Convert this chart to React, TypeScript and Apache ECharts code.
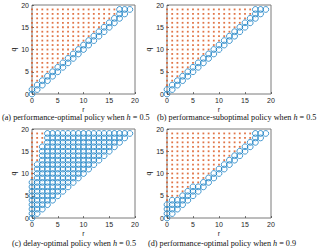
import React, { useEffect, useRef } from "react";
import * as echarts from "echarts";

// r = 0..19 ; for each r, the highest q drawn as a blue circle (circles from q = r up to it),
// red dots fill from there up to Q_MAX.
const Q_MAX = 19;
const R_VALUES = [0, 1, 2, 3, 4, 5, 6, 7, 8, 9, 10, 11, 12, 13, 14, 15, 16, 17, 18, 19];
const blueTopA = [1, 2, 3, 4, 5, 6, 7, 8, 9, 10, 11, 12, 13, 14, 15, 16, 17, 19, 19, 19];
const blueTopB = [1, 2, 3, 4, 5, 6, 7, 8, 9, 10, 11, 12, 13, 14, 15, 16, 17, 19, 19, 19];
const blueTopC = [8, 12, 16, 19, 19, 19, 19, 19, 19, 19, 19, 19, 19, 19, 19, 19, 19, 19, 19, 19];
const blueTopD = [3, 4, 4, 5, 6, 7, 7, 8, 9, 10, 11, 12, 13, 14, 15, 16, 17, 19, 19, 19];
const ticks = [0, 5, 10, 15, 20];
const captions = [
  "(a) performance-optimal policy when {i|h} = 0.5",
  "(b) performance-suboptimal policy when {i|h} = 0.5",
  "(c) delay-optimal policy when {i|h} = 0.5",
  "(d) performance-optimal policy when {i|h} = 0.9",
];

function buildPoints(top: number[]) {
  const blue: number[][] = [];
  const red: number[][] = [];
  R_VALUES.forEach((r, i) => {
    for (let q = r; q <= Q_MAX; q++) {
      if (q <= top[i]) blue.push([r, q]);
      else red.push([r, q]);
    }
  });
  return { blue, red };
}

export default function App() {
  const ref = useRef<HTMLDivElement>(null);
  useEffect(() => {
    if (!ref.current) return;
    const chart = echarts.init(ref.current, undefined, { renderer: "svg" });
    const panels = [blueTopA, blueTopB, blueTopC, blueTopD];
    const grids = [
      { left: 32, top: 5, width: 103, height: 89 },
      { left: 167, top: 5, width: 104, height: 89 },
      { left: 32, top: 129, width: 103, height: 89 },
      { left: 167, top: 129, width: 104, height: 89 },
    ];
    const font = "'Liberation Sans', Arial, sans-serif";
    const axisCommon = {
      min: ticks[0],
      max: ticks[ticks.length - 1],
      interval: 5,
      axisLine: { show: false },
      splitLine: { show: false },
      axisTick: { show: true, inside: true, length: 2, lineStyle: { color: "#262626", width: 0.6 } },
    };
    const xAxis: any[] = [];
    const yAxis: any[] = [];
    const series: any[] = [];
    panels.forEach((top, i) => {
      xAxis.push({
        ...axisCommon,
        gridIndex: i,
        type: "value",
        name: "r",
        nameLocation: "middle",
        nameGap: 12,
        nameTextStyle: { fontSize: 7, color: "#262626", fontFamily: font },
        axisLabel: { fontSize: 7, color: "#262626", margin: 3, fontFamily: font },
      });
      yAxis.push({
        ...axisCommon,
        gridIndex: i,
        type: "value",
        name: "q",
        nameLocation: "middle",
        nameGap: 15,
        nameTextStyle: { fontSize: 7, color: "#262626", fontFamily: font },
        axisLabel: { fontSize: 7, color: "#262626", margin: 3, fontFamily: font },
      });
      const { blue, red } = buildPoints(top);
      series.push({
        type: "scatter",
        xAxisIndex: i,
        yAxisIndex: i,
        data: red,
        symbol: "rect",
        symbolSize: 1.8,
        itemStyle: { color: "#D95319" },
        clip: false,
        silent: true,
      });
      series.push({
        type: "scatter",
        xAxisIndex: i,
        yAxisIndex: i,
        data: blue,
        symbol: "circle",
        symbolSize: 5.8,
        itemStyle: { color: "none", borderColor: "#0072BD", borderWidth: 0.9 },
        clip: false,
        silent: true,
      });
    });
    const capPos = [
      { x: 2, y: 117 },
      { x: 157, y: 117 },
      { x: 12, y: 243 },
      { x: 148, y: 243 },
    ];
    const graphic = captions.map((c, i) => ({
      type: "text",
      x: capPos[i].x,
      y: capPos[i].y,
      style: {
        text: c,
        fontSize: 8.2,
        fontFamily: "'Liberation Serif', 'Times New Roman', serif",
        fill: "#111",
        verticalAlign: "middle",
        rich: {
          i: { fontStyle: "italic", fontSize: 8.2, fontFamily: "'Liberation Serif', serif", fill: "#111" },
        },
      },
    }));
    chart.setOption({
      animation: false,
      backgroundColor: "#fff",
      grid: grids.map((g) => ({ ...g, show: true, borderColor: "#7a7a7a", borderWidth: 1, backgroundColor: "transparent" })),
      xAxis,
      yAxis,
      series,
      graphic,
    });
    return () => chart.dispose();
  }, []);
  return <div ref={ref} style={{ width: 324, height: 252, position: "absolute", left: 0, top: 0 }} />;
}
